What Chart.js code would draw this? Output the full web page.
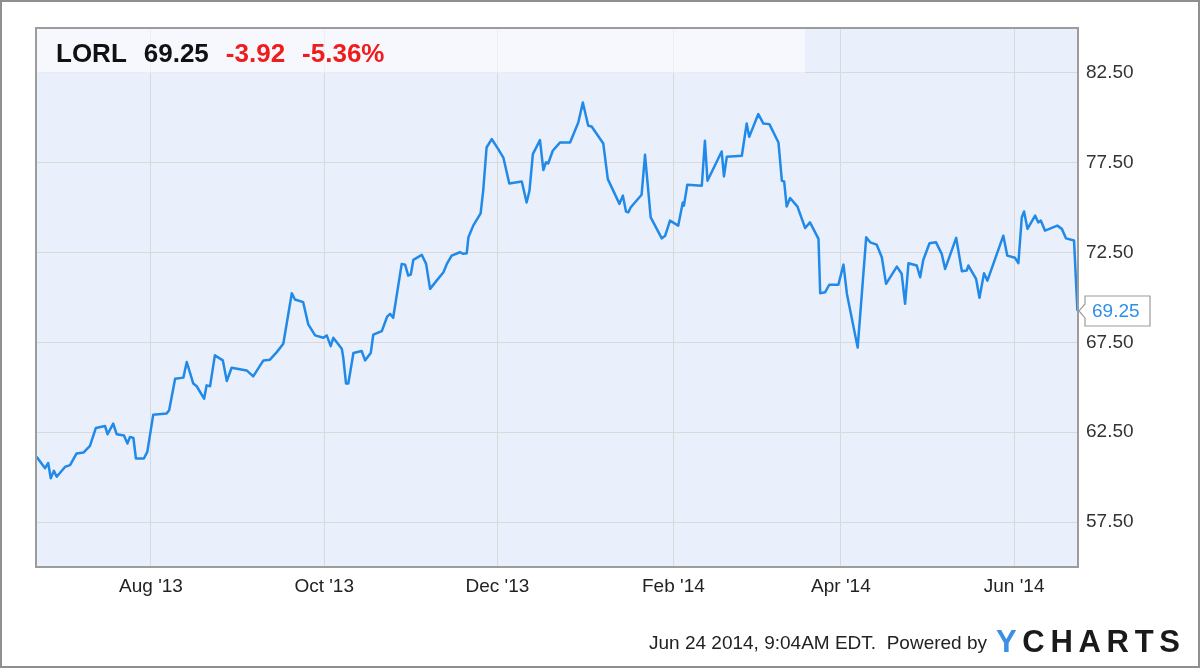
<!DOCTYPE html>
<html>
<head>
<meta charset="utf-8">
<script src="https://cdn.jsdelivr.net/npm/chart.js@4.4.1/dist/chart.umd.min.js"></script>
<style>
  html, body { margin: 0; padding: 0; background: #fff; }
  #wrap { width: 1200px; height: 668px; }
</style>
</head>
<body>
<div id="wrap"><canvas id="myChart" width="1200" height="668"></canvas></div>
<script>
// days counted from Jun 22 2013
var days = [-0.3,2.7,3.8,4.7,5.8,6.8,9.7,11.5,13.8,16.2,
  18.5,20.6,23.8,24.7,26.7,27.9,30.5,31.7,32.6,33.8,
  34.7,37.5,38.7,40.8,45.5,46.4,48.5,51.4,52.6,54.9,
  56.1,58.7,59.6,60.8,62.5,65.3,66.7,68.4,73.7,76.0,
  79.6,81.9,84.3,86.6,89.6,90.7,93.6,95.4,97.8,100.7,
  101.9,103.3,104.2,107.2,107.7,108.7,109.5,111.3,114.2,115.4,
  117.4,118.3,121.3,123.2,124.2,125.3,128.3,129.5,130.6,131.5,
  132.4,135.4,136.9,138.3,140.6,143.0,144.2,145.9,148.8,150.0,
  151.2,151.8,153.5,156.1,157.0,158.2,160.0,162.3,164.1,166.2,
  170.6,172.3,173.3,174.5,177.0,178.2,179.1,179.9,181.5,184.1,
  187.6,190.5,192.1,194.0,195.2,199.3,200.9,205.0,206.2,207.3,
  208.1,209.0,212.8,214.0,216.0,219.9,221.1,222.8,225.7,227.3,
  227.7,228.9,234.0,235.1,236.0,241.0,241.8,242.8,248.1,249.8,
  250.7,253.9,255.7,257.8,261.0,262.2,263.0,263.9,265.1,267.7,
  270.4,272.1,275.1,275.7,277.4,278.9,282.1,283.9,285.1,288.9,
  291.9,293.3,295.6,297.4,298.9,302.7,304.4,305.6,306.8,309.7,
  310.9,312.0,314.2,316.5,318.5,319.7,323.6,325.6,327.3,327.9,
  330.6,331.8,333.4,334.6,340.2,341.6,344.3,345.5,346.7,347.5,
  348.7,351.4,352.5,353.4,354.9,359.2,360.8,362.3,365.1,366.3];

var prices = [61.13,60.50,60.79,59.94,60.35,60.02,60.57,60.67,61.32,61.37,
  61.74,62.74,62.85,62.39,62.98,62.39,62.32,61.87,62.24,62.18,
  61.04,61.04,61.41,63.48,63.54,63.72,65.48,65.54,66.41,65.21,
  65.06,64.37,65.11,65.06,66.78,66.50,65.35,66.09,65.94,65.61,
  66.50,66.54,66.96,67.43,70.24,69.89,69.74,68.50,67.89,67.76,
  67.89,67.29,67.76,67.15,66.68,65.21,65.21,66.91,67.02,66.50,
  66.91,67.93,68.13,68.94,69.09,68.87,71.87,71.83,71.22,71.28,
  72.09,72.37,71.87,70.48,70.94,71.41,71.87,72.33,72.52,72.43,
  72.46,73.35,74.00,74.68,75.94,78.35,78.82,78.26,77.79,76.35,
  76.46,75.29,75.94,77.98,78.76,77.09,77.52,77.46,78.17,78.63,
  78.63,79.74,80.85,79.56,79.52,78.57,76.59,75.21,75.67,74.78,
  74.74,75.02,75.72,77.94,74.46,73.29,73.44,74.28,74.00,75.29,
  75.11,76.28,76.22,78.72,76.50,78.13,76.74,77.83,77.89,79.68,
  78.94,80.21,79.68,79.65,78.63,76.50,76.46,75.06,75.54,75.06,
  73.87,74.18,73.26,70.24,70.29,70.71,70.71,71.83,70.21,67.21,
  73.35,73.07,72.94,72.24,70.76,71.72,71.32,69.65,71.91,71.78,
  71.13,72.09,73.02,73.07,72.43,71.59,73.32,71.46,71.50,71.78,
  71.04,69.98,71.35,70.94,73.44,72.33,72.21,71.91,74.46,74.79,
  73.82,74.56,74.18,74.28,73.72,74.00,73.82,73.29,73.17,69.25];

var monthDays = [40, 101, 162, 224, 283, 344];
var monthLabels = ["Aug '13", "Oct '13", "Dec '13", "Feb '14", "Apr '14", "Jun '14"];
var yTicks = [57.5, 62.5, 67.5, 72.5, 77.5, 82.5];

var ticker = 'LORL';
var lastPrice = 69.25;
var change = -3.92;
var changePct = -5.36;
var stamp = 'Jun 24 2014, 9:04AM EDT.  Powered by';

var FONT = '"Liberation Sans", Arial, Helvetica, sans-serif';
var lineColor = '#2189e8';

var decor = {
  id: 'decor',
  beforeDraw: function(chart) {
    var ctx = chart.ctx, ca = chart.chartArea;
    ctx.save();
    ctx.fillStyle = '#ffffff';
    ctx.fillRect(0, 0, chart.width, chart.height);
    ctx.fillStyle = '#eaf0fb';
    ctx.fillRect(ca.left, ca.top, ca.right - ca.left, ca.bottom - ca.top);
    ctx.restore();
  },
  beforeDatasetsDraw: function(chart) {
    var ctx = chart.ctx, ca = chart.chartArea;
    var yb = chart.scales.y.getPixelForValue(82.5);
    ctx.save();
    ctx.fillStyle = 'rgba(255,255,255,0.55)';
    ctx.fillRect(ca.left, ca.top, 769, yb - ca.top);
    ctx.restore();
  },
  afterDraw: function(chart) {
    var ctx = chart.ctx, ca = chart.chartArea;
    ctx.save();
    // plot frame
    ctx.strokeStyle = '#9c9c9c';
    ctx.lineWidth = 2;
    ctx.strokeRect(ca.left, ca.top, ca.right - ca.left, ca.bottom - ca.top);

    // header
    ctx.textBaseline = 'alphabetic';
    ctx.textAlign = 'left';
    ctx.font = 'bold 26px ' + FONT;
    var parts = [
      [ticker, '#111'],
      [lastPrice.toFixed(2), '#111'],
      [change.toFixed(2), '#f01c1c'],
      [changePct.toFixed(2) + '%', '#f01c1c']
    ];
    var hx = 56;
    parts.forEach(function(p) {
      ctx.fillStyle = p[1];
      ctx.fillText(p[0], hx, 62);
      hx += ctx.measureText(p[0]).width + 17;
    });

    // last value callout
    var ly = chart.scales.y.getPixelForValue(lastPrice);
    var bx = ca.right + 7, bw = 65, bh = 30;
    ctx.beginPath();
    ctx.moveTo(bx, ly - bh / 2);
    ctx.lineTo(bx + bw, ly - bh / 2);
    ctx.lineTo(bx + bw, ly + bh / 2);
    ctx.lineTo(bx, ly + bh / 2);
    ctx.lineTo(bx, ly + 7);
    ctx.lineTo(ca.right + 1, ly);
    ctx.lineTo(bx, ly - 7);
    ctx.closePath();
    ctx.fillStyle = '#ffffff';
    ctx.fill();
    ctx.strokeStyle = '#9c9c9c';
    ctx.lineWidth = 1.2;
    ctx.stroke();
    ctx.fillStyle = '#2e8fe8';
    ctx.font = '19px ' + FONT;
    ctx.textBaseline = 'middle';
    ctx.fillText(lastPrice.toFixed(2), bx + 7, ly + 1);

    // footer
    ctx.textBaseline = 'alphabetic';
    ctx.textAlign = 'right';
    ctx.fillStyle = '#222';
    ctx.font = '19px ' + FONT;
    ctx.fillText(stamp, 987, 649);

    ctx.textAlign = 'left';
    ctx.font = 'bold 31px ' + FONT;
    var logo = 'YCHARTS';
    var widths = logo.split('').map(function(c) { return ctx.measureText(c).width; });
    var sum = widths.reduce(function(a, b) { return a + b; }, 0);
    var gap = (184 - sum) / (logo.length - 1);
    var lx = 996;
    logo.split('').forEach(function(c, i) {
      ctx.fillStyle = i === 0 ? '#3d8fe6' : '#1a1a1a';
      ctx.fillText(c, lx, 652);
      lx += widths[i] + gap;
    });

    // outer frame
    ctx.strokeStyle = '#8f8f8f';
    ctx.lineWidth = 2;
    ctx.strokeRect(1, 1, chart.width - 2, chart.height - 2);
    ctx.restore();
  }
};

var ctx = document.getElementById('myChart').getContext('2d');
var myChart = new Chart(ctx, {
  type: 'line',
  data: {
    datasets: [{
      data: days.map(function(d, i) { return { x: d, y: prices[i] }; }),
      borderColor: lineColor,
      borderWidth: 2.5,
      pointRadius: 0,
      tension: 0,
      fill: false,
      borderJoinStyle: 'round'
    }]
  },
  options: {
    responsive: false,
    animation: false,
    devicePixelRatio: 1,
    layout: { padding: { left: 36, top: 28, right: 0, bottom: 0 } },
    plugins: {
      legend: { display: false },
      tooltip: { enabled: false }
    },
    scales: {
      x: {
        type: 'linear',
        min: -0.5,
        max: 366.5,
        afterBuildTicks: function(s) {
          s.ticks = monthDays.map(function(v) { return { value: v }; });
        },
        afterFit: function(s) { s.height = 101; },
        grid: { color: '#d9d9d9', lineWidth: 1, drawTicks: false },
        border: { display: false },
        ticks: {
          padding: 8,
          maxRotation: 0,
          autoSkip: false,
          color: '#222',
          font: { family: FONT, size: 19 },
          callback: function(v) {
            var i = monthDays.indexOf(v);
            return i >= 0 ? monthLabels[i] : '';
          }
        }
      },
      y: {
        position: 'right',
        min: 55,
        max: 85,
        afterBuildTicks: function(s) {
          s.ticks = yTicks.map(function(v) { return { value: v }; });
        },
        afterFit: function(s) { s.width = 122; },
        grid: { color: '#d9d9d9', lineWidth: 1, drawTicks: false },
        border: { display: false },
        ticks: {
          padding: 8,
          color: '#333',
          font: { family: FONT, size: 19 },
          callback: function(v) { return Number(v).toFixed(2); }
        }
      }
    }
  },
  plugins: [decor]
});
</script>
</body>
</html>
